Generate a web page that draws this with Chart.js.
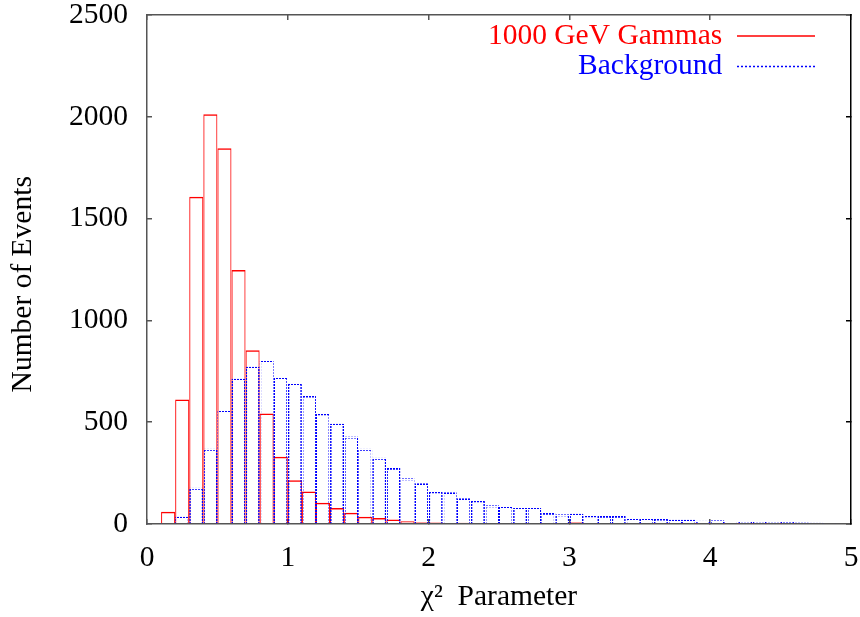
<!DOCTYPE html>
<html>
<head>
<meta charset="utf-8">
<script src="https://cdn.jsdelivr.net/npm/chart.js@4.4.1/dist/chart.umd.min.js"></script>
<style>
  html, body { margin: 0; padding: 0; background: #ffffff; }
  #wrap { width: 860px; height: 617px; }
</style>
</head>
<body>
<div id="wrap"><canvas id="c" width="860" height="617"></canvas></div>
<script>
// ---- data (bin centres, bin width 0.1) ----
const binCenters = [
  0.05, 0.15, 0.25, 0.35, 0.45, 0.55, 0.65, 0.75, 0.85, 0.95,
  1.05, 1.15, 1.25, 1.35, 1.45, 1.55, 1.65, 1.75, 1.85, 1.95,
  2.05, 2.15, 2.25, 2.35, 2.45, 2.55, 2.65, 2.75, 2.85, 2.95,
  3.05, 3.15, 3.25, 3.35, 3.45, 3.55, 3.65, 3.75, 3.85, 3.95,
  4.05, 4.15, 4.25, 4.35, 4.45, 4.55, 4.65, 4.75, 4.85, 4.95
];
const gammaCounts = [
  0, 60, 612, 1607, 2013, 1845, 1247, 853, 543, 330,
  215, 160, 104, 78, 55, 36, 30, 22, 13, 9,
  7, 5, 6, 4, 5, 5, 3, 3, 3, 2,
  8, 2, 2, 3, 2, 2, 1, 2, 1, 1,
  2, 1, 1, 1, 1, 1, 0, 0, 0, 0
];
const backgroundCounts = [
  2, 5, 35, 178, 369, 560, 713, 772, 800, 722,
  692, 631, 544, 492, 430, 369, 325, 276, 225, 200,
  161, 156, 127, 117, 92, 89, 78, 78, 55, 48,
  50, 43, 40, 40, 30, 30, 27, 21, 21, 16,
  19, 15, 14, 13, 13, 12, 7, 6, 5, 4
];
const seriesLabels = ['1000 GeV Gammas', 'Background'];
const seriesColors = ['#ff0000', '#0000ff'];
const xTickValues = [0, 1, 2, 3, 4, 5];
const yTickValues = [0, 500, 1000, 1500, 2000, 2500];
const xTitle = 'χ²  Parameter';
const yTitle = 'Number of Events    ';

// ---- styling ----
const serif = "'Liberation Serif', 'Times New Roman', 'DejaVu Serif', serif";
const textFont = { family: serif, size: 29.5, lineHeight: 1 };
const axisGrey = '#555555';

const canvas = document.getElementById('c');
const ctx = canvas.getContext('2d');

function dotPattern(color) {
  const p = document.createElement('canvas');
  p.width = 3; p.height = 3;
  const g = p.getContext('2d');
  g.fillStyle = color;
  g.fillRect(0, 0, 2, 2);
  return ctx.createPattern(p, 'repeat');
}

function setTicks(values) {
  return (scale) => { scale.ticks = values.map(v => ({ value: v })); };
}

function noOverflow(scale) {
  scale.paddingLeft = 0; scale.paddingRight = 0;
  scale.paddingTop = 0; scale.paddingBottom = 0;
}

const legendPlacer = {
  id: 'legendPlacer',
  afterLayout(chart) {
    const lg = chart.legend;
    if (!lg) return;
    const ca = chart.chartArea;
    const pad = lg.options.labels.padding;
    const right = ca.right - 36 + pad;
    lg.left = right - lg.width;
    lg.right = right;
    lg.top = ca.top + 5.25;
    lg.bottom = lg.top + lg.height;
  }
};

function hiddenMirrorAxis(position, values, size) {
  return {
    type: 'linear',
    position: position,
    min: position === 'top' ? xTickValues[0] : yTickValues[0],
    max: position === 'top' ? xTickValues[xTickValues.length - 1] : yTickValues[yTickValues.length - 1],
    offset: false,
    afterBuildTicks: setTicks(values),
    afterFit: (s) => { if (position === 'top') s.height = size; else s.width = size; noOverflow(s); },
    ticks: { display: false },
    grid: { drawOnChartArea: false, offset: false, tickLength: -5, color: position === 'right' ? '#000000' : axisGrey, lineWidth: 1.5 },
    border: { color: position === 'right' ? '#000000' : axisGrey, width: 1.5 }
  };
}

new Chart(ctx, {
  type: 'bar',
  data: {
    datasets: [
      {
        label: seriesLabels[0],
        data: binCenters.map((x, i) => ({ x: x, y: gammaCounts[i] })),
        backgroundColor: 'rgba(0,0,0,0)',
        borderColor: seriesColors[0],
        borderWidth: { top: 1.5, left: 1, right: 1, bottom: 0 },
        borderSkipped: 'start',
        grouped: false,
        barPercentage: 1,
        categoryPercentage: 1,
        inflateAmount: 0,
        order: 1,
        xAxisID: 'x', yAxisID: 'y'
      },
      {
        label: seriesLabels[1],
        data: binCenters.map((x, i) => ({ x: x, y: backgroundCounts[i] })),
        backgroundColor: 'rgba(0,0,0,0)',
        borderColor: dotPattern(seriesColors[1]),
        borderWidth: { top: 2, left: 1.5, right: 1.5, bottom: 0 },
        borderSkipped: 'start',
        grouped: false,
        barPercentage: 1,
        categoryPercentage: 1,
        inflateAmount: 0,
        order: 0,
        xAxisID: 'x', yAxisID: 'y'
      }
    ]
  },
  options: {
    responsive: false,
    animation: false,
    events: [],
    layout: { padding: 0 },
    scales: {
      x: {
        type: 'linear',
        position: 'bottom',
        min: xTickValues[0],
        max: xTickValues[xTickValues.length - 1],
        offset: false,
        afterBuildTicks: setTicks(xTickValues),
        afterFit: (s) => { s.height = 93; noOverflow(s); },
        ticks: { font: textFont, color: '#000000', padding: 24, maxRotation: 0, autoSkip: false, callback: (v) => String(v) },
        grid: { drawOnChartArea: false, offset: false, tickLength: -5, color: axisGrey, lineWidth: 1.5 },
        border: { color: axisGrey, width: 1.5 },
        title: { display: true, text: xTitle, font: textFont, color: '#000000', padding: { top: 0, bottom: 5 } }
      },
      x2: hiddenMirrorAxis('top', xTickValues, 15),
      y: {
        type: 'linear',
        position: 'left',
        min: yTickValues[0],
        max: yTickValues[yTickValues.length - 1],
        afterBuildTicks: setTicks(yTickValues),
        afterFit: (s) => { s.width = 147; noOverflow(s); },
        ticks: { font: textFont, color: '#000000', padding: 24, callback: (v) => String(v) },
        grid: { drawOnChartArea: false, tickLength: -5, color: axisGrey, lineWidth: 1.5 },
        border: { color: axisGrey, width: 1.5 },
        title: { display: true, text: yTitle, font: textFont, color: '#000000', padding: { top: 8, bottom: 0 } }
      },
      y2: hiddenMirrorAxis('right', yTickValues, 9)
    },
    plugins: {
      tooltip: { enabled: false },
      legend: {
        position: 'chartArea',
        align: 'start',
        rtl: true,
        labels: {
          usePointStyle: true,
          pointStyleWidth: 78,
          padding: 1,
          font: textFont,
          generateLabels: (chart) => chart.data.datasets.map((ds, i) => ({
            text: ds.label,
            datasetIndex: i,
            fontColor: seriesColors[i],
            strokeStyle: seriesColors[i],
            fillStyle: seriesColors[i],
            lineWidth: 1.5,
            lineDash: i === 1 ? [2, 2] : [],
            pointStyle: 'line',
            hidden: false
          }))
        }
      }
    }
  },
  plugins: [legendPlacer]
});
</script>
</body>
</html>
